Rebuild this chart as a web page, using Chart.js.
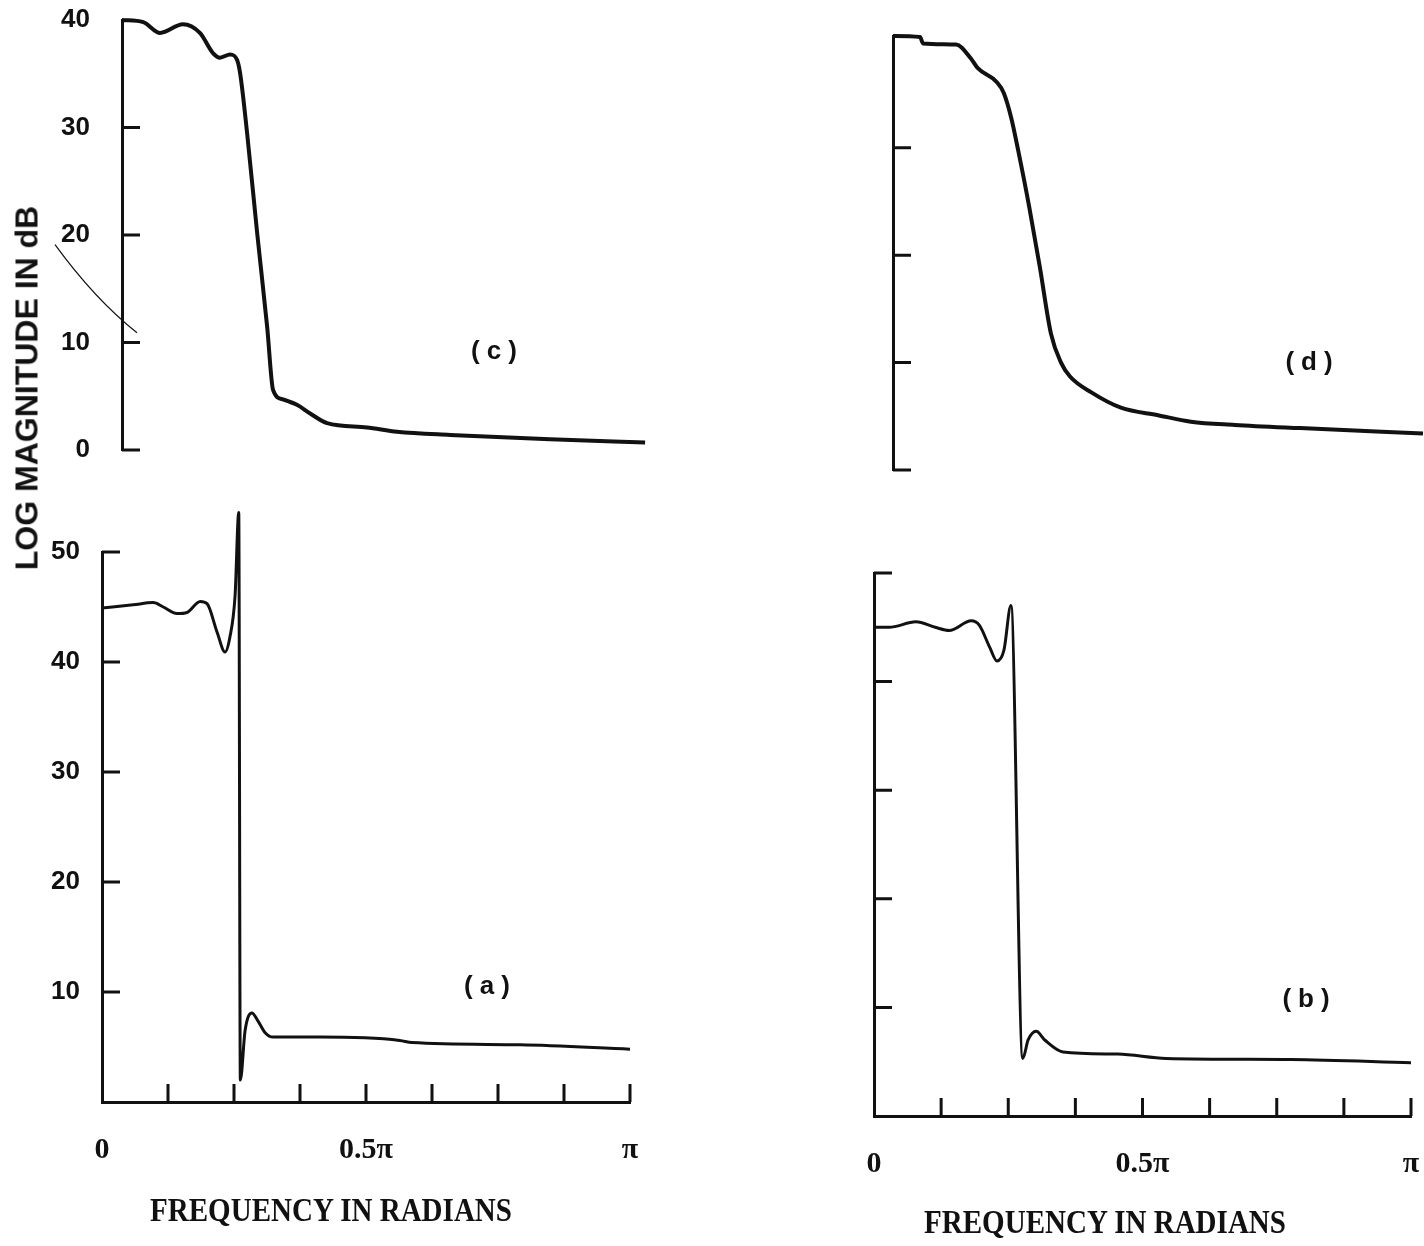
<!DOCTYPE html>
<html>
<head>
<meta charset="utf-8">
<script src="https://cdn.jsdelivr.net/npm/chart.js@4.4.1/dist/chart.umd.min.js"></script>
<style>
	html, body { margin: 0; padding: 0; background: #fff; }
	#page { position: relative; width: 1424px; height: 1246px; overflow: hidden; background: #fff; }
	canvas { position: absolute; }
	.txt { position: absolute; color: #111; white-space: nowrap; transform: translate(-50%, -50%); }
	.ytitle { font: bold 32px 'Liberation Sans', Arial, sans-serif; transform: translate(-50%, -50%) rotate(-90deg); }
	.xtitle { font: bold 33px 'Liberation Serif', 'Times New Roman', serif; transform: translate(-50%, -50%) scaleX(0.88); }
	.panel { font: bold 26px 'Liberation Sans', Arial, sans-serif; letter-spacing: 7px; padding-left: 7px; }
</style>
</head>
<body>
<div id="page">
	<canvas id="chartC" width="700" height="490" style="left:0;top:0"></canvas>
	<canvas id="chartD" width="624" height="500" style="left:800px;top:0"></canvas>
	<canvas id="chartA" width="700" height="746" style="left:0;top:500px"></canvas>
	<canvas id="chartB" width="624" height="726" style="left:800px;top:520px"></canvas>

	<div class="txt ytitle" style="left:27px;top:388px">LOG MAGNITUDE IN dB</div>
	<div class="txt xtitle" style="left:331px;top:1210px">FREQUENCY IN RADIANS</div>
	<div class="txt xtitle" style="left:1105px;top:1222px">FREQUENCY IN RADIANS</div>
	<div class="txt panel" style="left:494px;top:350px">(c)</div>
	<div class="txt panel" style="left:1309px;top:361px">(d)</div>
	<div class="txt panel" style="left:487px;top:985px">(a)</div>
	<div class="txt panel" style="left:1306px;top:998px">(b)</div>
</div>
<script>
// frequency is given in units of pi (0 .. 1), magnitude in dB

// (c) top left
const freqC = [0, 0.04, 0.072, 0.115, 0.147, 0.172, 0.185, 0.204, 0.217, 0.223, 0.236, 0.255, 0.274, 0.285, 0.304, 0.33, 0.355, 0.387, 0.462, 0.519, 0.619, 0.808, 0.987];
const magC  = [40, 39.8, 38.8, 39.6, 38.8, 36.9, 36.5, 36.8, 36.3, 35, 29.5, 20.2, 11.4, 5.6, 4.7, 4.2, 3.4, 2.5, 2.1, 1.7, 1.4, 1.0, 0.7];

// (d) top right
const freqD = [0, 0.051, 0.057, 0.119, 0.147, 0.16, 0.196, 0.209, 0.223, 0.236, 0.257, 0.277, 0.298, 0.317, 0.334, 0.375, 0.43, 0.5, 0.562, 0.645, 0.768, 1.0];
const magD  = [40.4, 40.3, 39.7, 39.6, 38.3, 37.4, 36.1, 35.1, 32.8, 29.8, 24.5, 18.9, 12.7, 10, 8.7, 7.2, 5.8, 5.1, 4.5, 4.2, 3.9, 3.4];

// (a) bottom left
const freqA = [0, 0.059, 0.097, 0.116, 0.142, 0.161, 0.186, 0.199, 0.218, 0.233, 0.242, 0.252, 0.259, 0.262, 0.271, 0.284, 0.295, 0.309, 0.324, 0.413, 0.564, 0.587, 0.792, 1.0];
const magA  = [44.9, 45.2, 45.4, 45.0, 44.4, 44.5, 45.5, 45.3, 42.7, 40.9, 42.2, 46, 53.6, 2.0, 6.5, 8.1, 7.4, 6.3, 5.9, 5.9, 5.6, 5.4, 5.2, 4.8];

// (b) bottom right
const freqB = [0, 0.028, 0.078, 0.114, 0.14, 0.181, 0.196, 0.216, 0.229, 0.242, 0.255, 0.277, 0.287, 0.302, 0.318, 0.352, 0.454, 0.544, 0.777, 1.0];
const magB  = [45, 45, 45.5, 45, 44.7, 45.6, 45.2, 43.1, 41.9, 42.9, 47, 5.3, 7, 7.8, 7, 5.9, 5.7, 5.3, 5.2, 4.9];

// axis ticks
const topTicks = [0, 10, 20, 30];
const bottomTicks = [10, 20, 30, 40, 50];
const cTickLabels = ['0', '10', '20', '30', '40'];
const aTickLabels = ['', '10', '20', '30', '40', '50'];
const xTickValues = [0.125, 0.25, 0.375, 0.5, 0.625, 0.75, 0.875, 1];
const xTickLabels = ['0', '', '', '', '0.5π', '', '', '', 'π'];

const INK = '#111';

// short tick stubs drawn inward from the axes, plus the hand drawn pointer in (c)
const innerTicks = {
	id: 'innerTicks',
	afterDraw(chart, args, opts) {
		const {ctx, chartArea: area, scales: {x, y}} = chart;
		ctx.save();
		ctx.strokeStyle = INK;
		ctx.lineWidth = 3;
		ctx.lineCap = 'butt';
		ctx.beginPath();
		(opts.y || []).forEach(v => {
			const py = y.getPixelForValue(v);
			ctx.moveTo(area.left, py);
			ctx.lineTo(area.left + opts.len, py);
		});
		(opts.x || []).forEach(v => {
			const px = x.getPixelForValue(v);
			ctx.moveTo(px, area.bottom);
			ctx.lineTo(px, area.bottom - opts.len);
		});
		ctx.stroke();
		if (opts.pointer) {
			ctx.lineWidth = 1.2;
			ctx.beginPath();
			ctx.moveTo(area.left - 67, y.getPixelForValue(19.1));
			ctx.quadraticCurveTo(area.left - 27, y.getPixelForValue(14), area.left + 15, y.getPixelForValue(10.9));
			ctx.stroke();
		}
		ctx.restore();
	}
};

function makePanel(id, freq, mag, cfg) {
	const ctx = document.getElementById(id).getContext('2d');
	const points = freq.map((f, i) => ({x: f, y: mag[i]}));
	return new Chart(ctx, {
		type: 'line',
		data: {
			datasets: [{
				data: points,
				borderColor: INK,
				borderWidth: cfg.lineWidth,
				pointRadius: 0,
				cubicInterpolationMode: 'monotone',
				fill: false,
				clip: false
			}]
		},
		options: {
			responsive: false,
			animation: false,
			events: [],
			layout: {padding: cfg.padding},
			plugins: {
				legend: {display: false},
				tooltip: {enabled: false},
				innerTicks: {y: cfg.yStubs, x: cfg.xStubs, len: 18, pointer: cfg.pointer}
			},
			scales: {
				x: {
					type: 'linear',
					min: 0,
					max: 1,
					display: cfg.showX,
					// keep the plot box where the padding puts it
					afterFit: s => { s.height = cfg.xHeight; s.paddingLeft = 0; s.paddingRight = 0; },
					grid: {display: false, drawTicks: false},
					border: {display: true, color: INK, width: 3},
					ticks: {
						stepSize: 0.125,
						autoSkip: false,
						maxRotation: 0,
						padding: 30,
						color: INK,
						font: {family: "'Liberation Serif', 'Times New Roman', serif", size: 30, weight: 'bold'},
						callback: (v, i) => xTickLabels[i]
					}
				},
				y: {
					type: 'linear',
					min: 0,
					max: cfg.yMax,
					afterFit: s => { s.width = cfg.yWidth; s.paddingTop = 0; s.paddingBottom = 0; },
					grid: {display: false, drawTicks: false},
					border: {display: true, color: INK, width: 3},
					ticks: {
						display: !!cfg.yLabels,
						stepSize: 10,
						padding: cfg.labelPad,
						color: INK,
						font: {family: "'Liberation Sans', Arial, sans-serif", size: 26, weight: 'bold'},
						callback: (v, i) => cfg.yLabels ? cfg.yLabels[i] : ''
					}
				}
			}
		},
		plugins: [innerTicks]
	});
}

document.addEventListener('DOMContentLoaded', function(){
	makePanel('chartC', freqC, magC, {
		padding: {top: 20, right: 48, bottom: 40, left: 0},
		yWidth: 122, yMax: 40, yLabels: cTickLabels, labelPad: 32,
		showX: false, xHeight: 0, yStubs: topTicks, lineWidth: 4, pointer: true
	});
	makePanel('chartD', freqD, magD, {
		padding: {top: 36, right: 1, bottom: 30, left: 0},
		yWidth: 93, yMax: 40.4, yLabels: null, labelPad: 0,
		showX: false, xHeight: 0, yStubs: topTicks, lineWidth: 4
	});
	makePanel('chartA', freqA, magA, {
		padding: {top: 52, right: 70, bottom: 0, left: 0},
		yWidth: 102, yMax: 50, yLabels: aTickLabels, labelPad: 22,
		showX: true, xHeight: 144, yStubs: bottomTicks, xStubs: xTickValues, lineWidth: 3
	});
	makePanel('chartB', freqB, magB, {
		padding: {top: 53, right: 13, bottom: 0, left: 0},
		yWidth: 74, yMax: 50, yLabels: null, labelPad: 0,
		showX: true, xHeight: 130, yStubs: bottomTicks, xStubs: xTickValues, lineWidth: 3
	});
});
</script>
</body>
</html>
